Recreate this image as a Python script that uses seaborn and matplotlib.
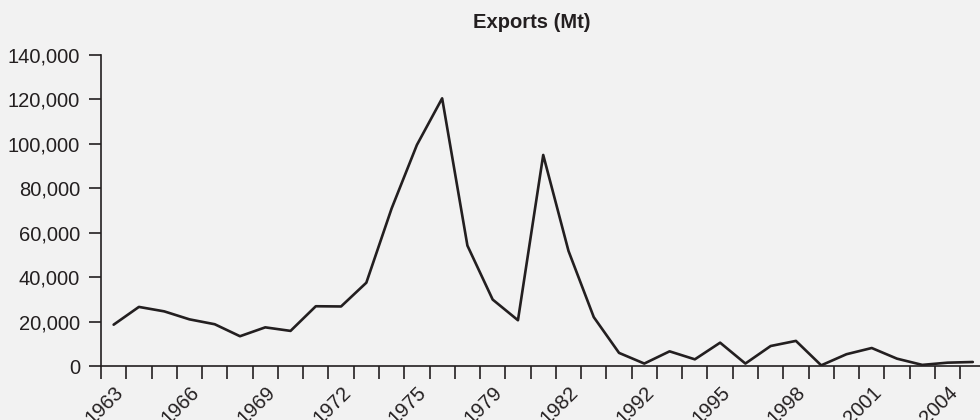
import pandas as pd
import matplotlib
matplotlib.use("Agg")
import matplotlib.pyplot as plt
from matplotlib.ticker import FuncFormatter
import seaborn as sns

# Years shown on the category axis (only every third one is labelled)
years = [1963, 1964, 1965, 1966, 1967, 1968, 1969, 1970, 1971, 1972,
         1973, 1974, 1975, 1976, 1977, 1979, 1980, 1981, 1982, 1983,
         1991, 1992, 1993, 1994, 1995, 1996, 1997, 1998, 1999, 2000,
         2001, 2002, 2003, 2004, 2005]

# Exports in Mt
exports = [18600, 26600, 24600, 21000, 18800, 13400, 17400, 15800, 26900, 26800,
           37500, 70900, 99500, 120500, 54200, 29900, 20600, 95000, 51800, 22000,
           5900, 1100, 6600, 3000, 10500, 1100, 9000, 11300, 300, 5300,
           8100, 3300, 500, 1500, 1800]

y_ticks = [0, 20000, 40000, 60000, 80000, 100000, 120000, 140000]

df = pd.DataFrame({"pos": range(len(years)), "year": years, "exports": exports})

sns.set_theme(style="ticks")
plt.rcParams["font.family"] = ["Liberation Sans", "DejaVu Sans"]
bg = "#f2f2f2"
ink = "#231f20"

fig = plt.figure(figsize=(9.8, 4.2), dpi=100, facecolor=bg)
ax = fig.add_axes([101 / 980, 54 / 420, 879 / 980, 311 / 420], facecolor=bg)

sns.lineplot(data=df, x="pos", y="exports", ax=ax, color=ink, linewidth=1.9)

ax.set_ylim(0, 140000)
ax.set_xlim(-0.5, -0.5 + 879 / 25.27)
ax.set_yticks(y_ticks)
ax.yaxis.set_major_formatter(FuncFormatter(lambda v, p: f"{v:,.0f}"))

# tick marks on category boundaries, labels at centres of every third category
ax.set_xticks([i - 0.5 for i in range(len(years))])
ax.set_xticklabels([])
lab_pos = list(range(0, len(years), 3))
ax.set_xticks(lab_pos, minor=True)
ax.set_xticklabels([str(years[i]) for i in lab_pos], minor=True,
                   rotation=45, ha="right", va="top", rotation_mode="anchor")

ax.tick_params(axis="x", which="major", length=9, width=1.2, color=ink, direction="out")
ax.tick_params(axis="x", which="minor", length=0, pad=12, labelsize=14.5, labelcolor=ink)
ax.tick_params(axis="y", length=9, width=1.2, color=ink, pad=6, labelsize=14.5, labelcolor=ink)

sns.despine(ax=ax)
for s in ["left", "bottom"]:
    ax.spines[s].set_color(ink)
    ax.spines[s].set_linewidth(1.2)

ax.set_xlabel("")
ax.set_ylabel("")
fig.text(532 / 980, 1 - 23 / 420, "Exports (Mt)", ha="center", va="center",
         fontsize=14.5, fontweight="bold", color=ink)

fig.savefig("out.png", dpi=100, facecolor=bg)
